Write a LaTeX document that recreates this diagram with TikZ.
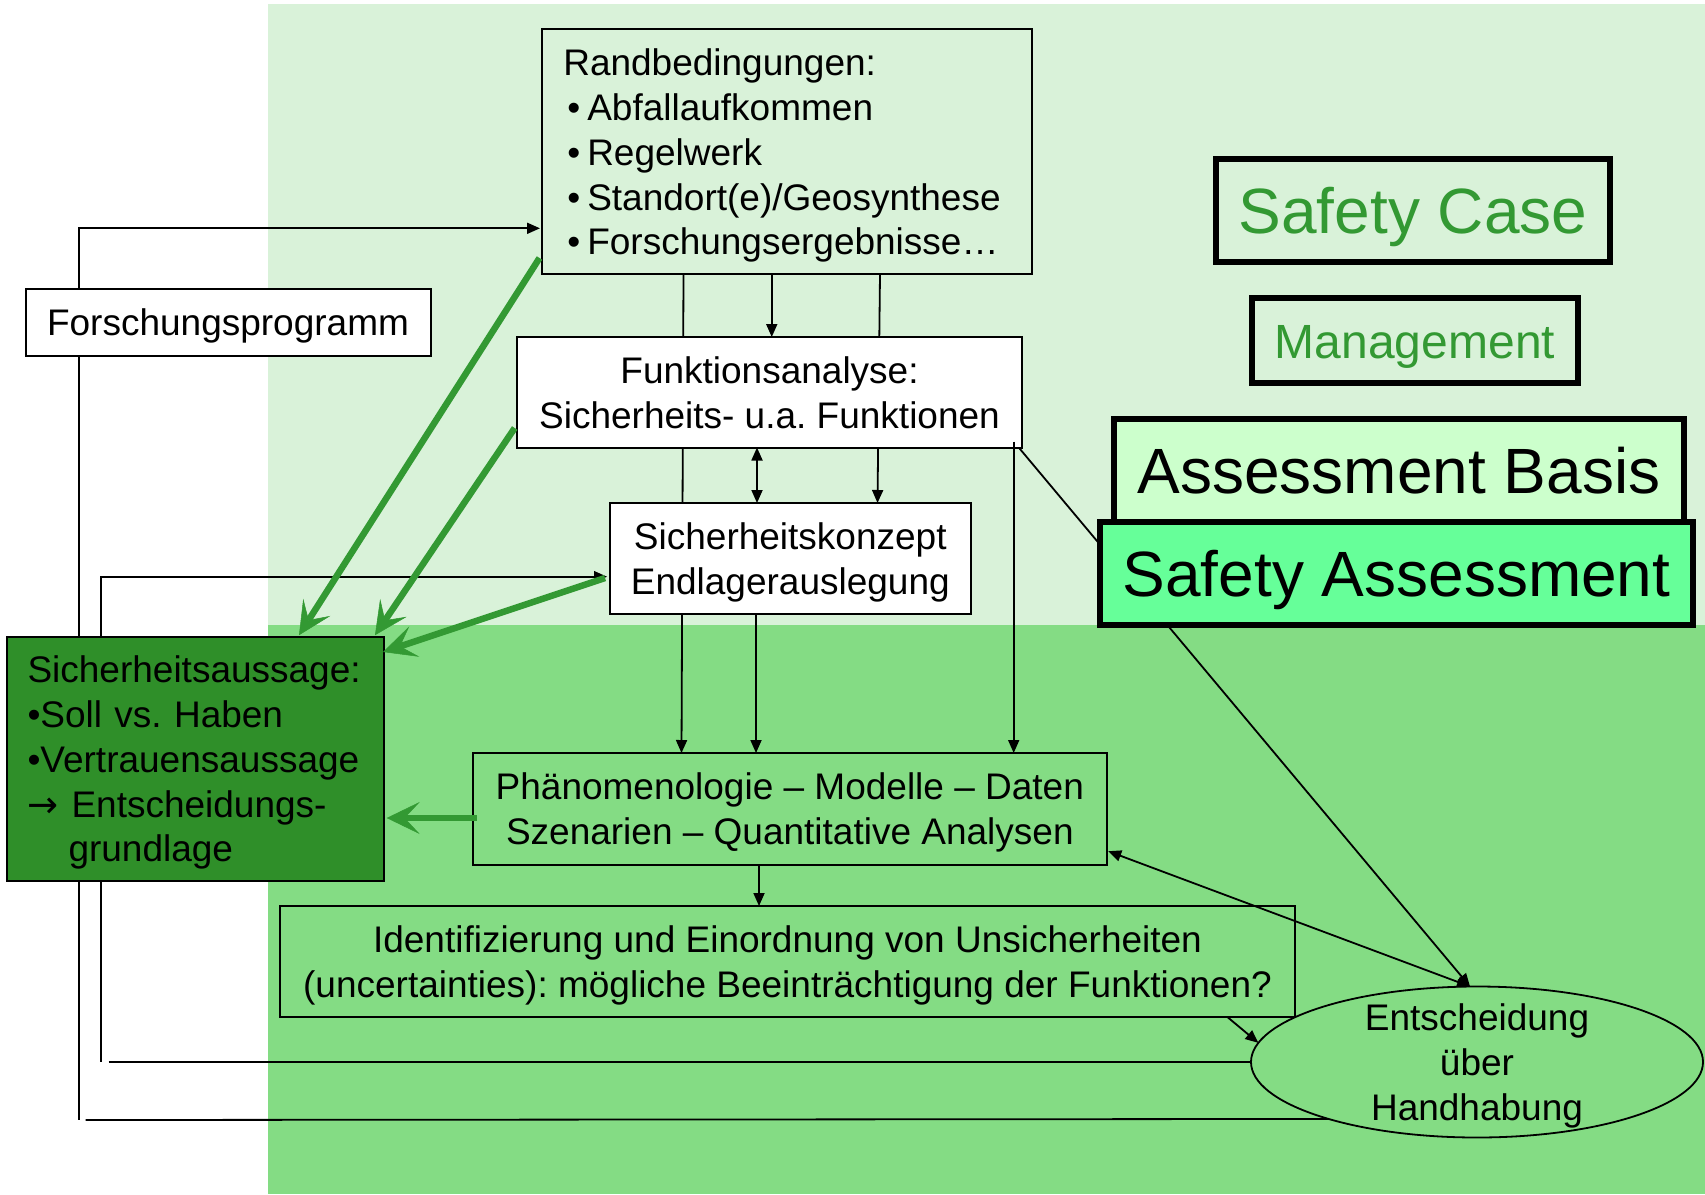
\documentclass[tikz,border=0pt]{standalone}
\usepackage{fontspec}
\setmainfont{Liberation Sans}
\newfontfamily\symfnt{DejaVu Sans}
\usetikzlibrary{arrows.meta,shapes.geometric}
\definecolor{bglight}{HTML}{D9F2D9}
\definecolor{bgdark}{HTML}{84DC84}
\definecolor{gtext}{HTML}{339933}
\definecolor{garrow}{HTML}{339933}
\definecolor{safill}{RGB}{47,143,41}
\definecolor{abfill}{HTML}{CCFFCC}
\definecolor{sasfill}{HTML}{66FF99}
\pgfdeclarelayer{bg}
\pgfdeclarelayer{mid}
\pgfsetlayers{bg,mid,main}
\newcommand{\Tst}{\rule{0pt}{0.94em}}
\newcommand{\Bst}{\rule[-0.21em]{0pt}{0.21em}}
\frenchspacing
\begin{document}
\begin{tikzpicture}[x=1pt,y=-1pt,
  every node/.style={inner sep=0pt, outer sep=0pt, font=\fontsize{37}{44.8}\selectfont},
  box/.style={draw=black, line width=2pt, rectangle},
  heavybox/.style={draw=black, line width=6.5pt, rectangle},
  ln/.style={line width=1.8pt},
  arr/.style={line width=1.8pt, -{Triangle[length=13pt,width=11pt]}},
  darr/.style={line width=1.8pt, {Triangle[length=13pt,width=11pt]}-{Triangle[length=13pt,width=11pt]}},
  garr/.style={draw=garrow, line width=6.5pt, -{Stealth[length=33pt,width=32pt,inset=15pt,line width=0.5pt]}},
]
\useasboundingbox (0,0) rectangle (1705,1194);

% nodes
\node[box, text width=446.9pt, inner xsep=21.8pt, align=left, minimum height=244.6pt] (rand) at (786.75,151.7)
  {\Tst Randbedingungen:\\
   \hspace*{4pt}•\hspace{7pt}Abfallaufkommen\\
   \hspace*{4pt}•\hspace{7pt}Regelwerk\\
   \hspace*{4pt}•\hspace{7pt}Standort(e)/Geosynthese\\
   \hspace*{4pt}•\hspace{7pt}Forschungsergebnisse…\Bst};
\node[box, fill=white, minimum width=505pt, minimum height=110.5pt, align=center] (fa) at (769.5,392.25)
  {\Tst Funktionsanalyse:\\Sicherheits- u.a. Funktionen\Bst};
\node[box, fill=white, minimum width=361.4pt, minimum height=111pt, align=center] (sk) at (790.3,558.5)
  {\Tst Sicherheitskonzept\\Endlagerauslegung\Bst};
\node[box, fill=white, minimum width=405pt, minimum height=66.7pt] (fp) at (228,322.3)
  {\Tst Forschungsprogramm\Bst};
\node[box, fill=safill, text width=336.3pt, inner xsep=20.2pt, align=left, minimum height=244pt] (sa) at (195.65,758.7)
  {\Tst Sicherheitsaussage:\\
   •Soll vs. Haben\\
   •Vertrauensaussage\\
   {\symfnt →}\hspace{13pt}Entscheidungs-\\
   \hspace*{41pt}grundlage\Bst};
\node[box, minimum width=633.7pt, minimum height=111.7pt, align=center] (phen) at (789.85,808.85)
  {\Tst Phänomenologie – Modelle – Daten\\Szenarien – Quantitative Analysen\Bst};
\node[box, minimum width=1015pt, minimum height=110.7pt, align=center] (ident) at (787.5,961.35)
  {\Tst Identifizierung und Einordnung von Unsicherheiten\\(uncertainties): mögliche Beeinträchtigung der Funktionen?\Bst};
\node[ellipse, draw=black, line width=1.8pt, minimum width=452pt, minimum height=151pt] (ell) at (1477,1062) {};
\node[align=center] (elltxt) at (ell.center) {\Tst Entscheidung\\über\\Handhabung\Bst};

\node[heavybox, minimum width=394pt, minimum height=103pt, text=gtext, font=\fontsize{64}{76}\selectfont] (sc) at (1413,210.5) {\Tst Safety Case\Bst};
\node[heavybox, minimum width=326pt, minimum height=85pt, text=gtext, font=\fontsize{48}{58}\selectfont] (mg) at (1415,340.5) {\Tst Management\Bst};
\node[heavybox, fill=abfill, minimum width=570pt, minimum height=103pt, font=\fontsize{64}{76}\selectfont] (ab) at (1399,470.5) {\Tst Assessment Basis\Bst};
\node[heavybox, fill=sasfill, minimum width=593pt, minimum height=103pt, font=\fontsize{64}{76}\selectfont] (sas) at (1396.5,573.5) {\Tst Safety Assessment\Bst};

\coordinate (fc) at ([xshift=-8.3pt,yshift=6pt]fa.south east);
\coordinate (c1) at (79.2,1120);
\coordinate (c2) at (100.6,1062);

% background
\begin{pgfonlayer}{bg}
\fill[white] (0,0) rectangle (1705,1194);
\fill[bglight] (268,4) rectangle (1705,625);
\fill[bgdark] (268,625) rectangle (1705,1194);
\end{pgfonlayer}

% connectors passing behind boxes
\begin{pgfonlayer}{mid}
\draw[arr] ([xshift=-103.25pt]rand.south) -- ([xshift=-108.35pt]phen.north);
\draw[arr] ([xshift=93.25pt]rand.south) -- ([xshift=87.2pt]sk.north);
\draw[arr] (fc) -- ([xshift=-7pt]ell.north);
\draw[ln] (fp.south -| c1) -- (c1);
\end{pgfonlayer}

% black connectors
\draw[arr] ([xshift=-15pt]rand.south) -- ([xshift=2.25pt]fa.north);
\draw[darr] ([xshift=-12.5pt]fa.south) -- ([xshift=-33.3pt]sk.north);
\draw[arr] ([xshift=-34.3pt]sk.south) -- ([xshift=-33.85pt]phen.north);
\draw[arr] (fc) -- (fc |- phen.north);
\draw[arr] ([xshift=-30.85pt]phen.south) -- ([xshift=-28.5pt]ident.north);
\draw[darr] ([xshift=1.5pt,yshift=13.5pt]phen.south east) -- ([xshift=-7pt]ell.north);
\draw[arr] ([xshift=-68pt]ident.south east) -- (ell.175);
\draw[arr] ([xshift=53.6pt]fp.north west) |- ([xshift=-1.5pt,yshift=-76.6pt]rand.west);
\draw[ln] ([xshift=6.5pt]c1) -- (ell.201.5);
\draw[arr] (sa.north -| c2) |- ([xshift=-2.5pt,yshift=-18.2pt]sk.west);
\draw[ln] (sa.south -| c2) -- (c2);
\draw[ln] ([xshift=8pt]c2) -- (ell.west);

% green arrows
\draw[garr] ([xshift=-2pt,yshift=16pt]rand.south west) -- ([xshift=-85pt,yshift=1.5pt]sa.north east);
\draw[garr] ([xshift=-2.3pt,yshift=19.5pt]fa.south west) -- ([xshift=-9pt,yshift=1.5pt]sa.north east);
\draw[garr] ([xshift=-4.6pt,yshift=-19.5pt]sk.west) -- ([xshift=-1pt,yshift=-15.3pt]sa.north east);
\draw[garr] ([xshift=3.7pt,yshift=-9.15pt]phen.west) -- ([xshift=2.7pt,yshift=-59.3pt]sa.east);
\end{tikzpicture}
\end{document}
